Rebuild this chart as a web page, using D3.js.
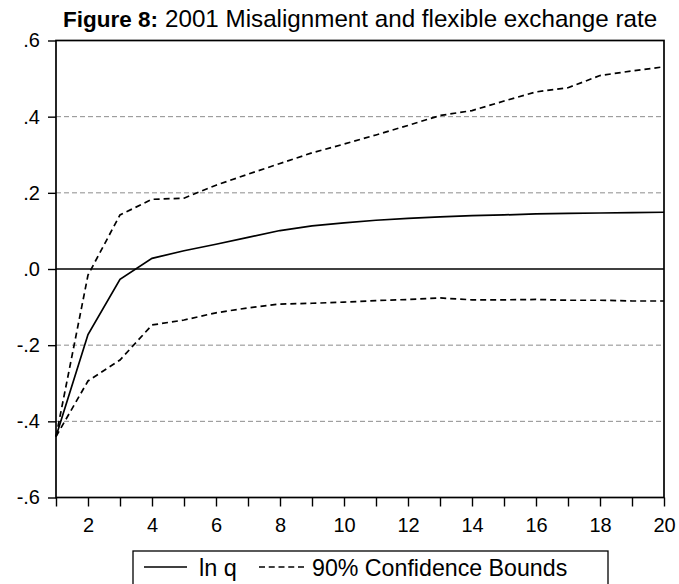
<!DOCTYPE html>
<html>
<head>
<meta charset="utf-8">
<script src="https://cdn.jsdelivr.net/npm/d3@7/dist/d3.min.js"></script>
<style>
  html, body { margin: 0; padding: 0; background: #fff; }
  svg { display: block; }
  text { font-family: "Liberation Sans", Arial, sans-serif; fill: #000; }
</style>
</head>
<body>
<svg id="chart" width="679" height="584"></svg>
<script>
// Impulse horizon (periods)
const periods = d3.range(1, 21);

// Response of ln q
const lnQ = [-0.440, -0.172, -0.027, 0.028, 0.048, 0.065, 0.083, 0.101, 0.113, 0.121,
             0.128, 0.133, 0.137, 0.140, 0.142, 0.145, 0.146, 0.147, 0.148, 0.149];

// 90% confidence bounds
const upperBound = [-0.440, -0.016, 0.142, 0.183, 0.186, 0.220, 0.249, 0.277, 0.305, 0.328,
                    0.352, 0.377, 0.403, 0.416, 0.441, 0.465, 0.476, 0.508, 0.520, 0.531];
const lowerBound = [-0.440, -0.294, -0.239, -0.147, -0.134, -0.115, -0.102, -0.092, -0.090, -0.087,
                    -0.083, -0.080, -0.076, -0.081, -0.081, -0.080, -0.082, -0.082, -0.084, -0.084];

const yTicks = [-0.6, -0.4, -0.2, 0.0, 0.2, 0.4, 0.6];
const yTickLabels = ["-.6", "-.4", "-.2", ".0", ".2", ".4", ".6"];
const xTickLabels = [2, 4, 6, 8, 10, 12, 14, 16, 18, 20];

const titleBold = "Figure 8:";
const titleText = "2001 Misalignment and flexible exchange rate";
const legendLabels = ["ln q", "90% Confidence Bounds"];

const svg = d3.select("#chart");
const plot = { left: 56, right: 664, top: 40.5, bottom: 497.5 };

const x = d3.scaleLinear().domain([1, 20]).range([plot.left, plot.right]);
const y = d3.scaleLinear().domain([-0.6, 0.6]).range([plot.bottom, plot.top]);

// Dashed horizontal gridlines (inner ticks only)
svg.append("g")
  .selectAll("line")
  .data(yTicks.filter(v => Math.abs(v) > 1e-9 && Math.abs(Math.abs(v) - 0.6) > 1e-9))
  .join("line")
  .attr("x1", plot.left).attr("x2", plot.right)
  .attr("y1", d => y(d)).attr("y2", d => y(d))
  .attr("stroke", "#8c8c8c").attr("stroke-width", 1)
  .attr("stroke-dasharray", "5,3");

// Zero line
svg.append("line")
  .attr("x1", plot.left).attr("x2", plot.right)
  .attr("y1", y(0)).attr("y2", y(0))
  .attr("stroke", "#000").attr("stroke-width", 1.4);

// Series
const line = d3.line().x((d, i) => x(periods[i])).y(d => y(d));

svg.append("path").datum(upperBound).attr("d", line)
  .attr("fill", "none").attr("stroke", "#000").attr("stroke-width", 1.7)
  .attr("stroke-dasharray", "6,4");
svg.append("path").datum(lowerBound).attr("d", line)
  .attr("fill", "none").attr("stroke", "#000").attr("stroke-width", 1.7)
  .attr("stroke-dasharray", "6,4");
svg.append("path").datum(lnQ).attr("d", line)
  .attr("fill", "none").attr("stroke", "#000").attr("stroke-width", 1.7);

// Frame
svg.append("rect")
  .attr("x", plot.left).attr("y", plot.top)
  .attr("width", plot.right - plot.left).attr("height", plot.bottom - plot.top)
  .attr("fill", "none").attr("stroke", "#000").attr("stroke-width", 1.7);

// Y axis
const yAxis = d3.axisLeft(y)
  .tickValues(yTicks)
  .tickFormat((d, i) => yTickLabels[i])
  .tickSize(8).tickPadding(8);
const gy = svg.append("g").attr("transform", `translate(${plot.left},0)`).call(yAxis);
gy.select(".domain").remove();
gy.selectAll(".tick line").attr("stroke-width", 1.4);
gy.selectAll(".tick text").attr("font-size", 20).attr("font-family", "Liberation Sans, Arial, sans-serif");

// X axis: a tick every period, labels on even periods
const xAxis = d3.axisBottom(x)
  .tickValues(periods)
  .tickFormat(d => xTickLabels.includes(d) ? String(d) : "")
  .tickSize(9).tickPadding(11);
const gx = svg.append("g").attr("transform", `translate(0,${plot.bottom})`).call(xAxis);
gx.select(".domain").remove();
gx.selectAll(".tick line").attr("stroke-width", 1.4);
gx.selectAll(".tick text").attr("font-size", 20).attr("font-family", "Liberation Sans, Arial, sans-serif");

// Title
const title = svg.append("text").attr("y", 27);
title.append("tspan").attr("x", 63).attr("font-weight", "bold").attr("font-size", 22.5).text(titleBold);
title.append("tspan").attr("x", 165).attr("font-size", 24.2).text(titleText);

// Legend
const lg = svg.append("g");
lg.append("rect").attr("x", 133).attr("y", 551).attr("width", 475).attr("height", 50)
  .attr("fill", "#fff").attr("stroke", "#000").attr("stroke-width", 1.3);
lg.append("line").attr("x1", 144).attr("x2", 187).attr("y1", 567).attr("y2", 567)
  .attr("stroke", "#000").attr("stroke-width", 1.4);
lg.append("text").attr("x", 199).attr("y", 576).attr("font-size", 23.5).text(legendLabels[0]);
lg.append("line").attr("x1", 259).attr("x2", 304).attr("y1", 567).attr("y2", 567)
  .attr("stroke", "#000").attr("stroke-width", 1.4).attr("stroke-dasharray", "6,3.75");
lg.append("text").attr("x", 312).attr("y", 576).attr("font-size", 23.2).text(legendLabels[1]);
</script>
</body>
</html>
